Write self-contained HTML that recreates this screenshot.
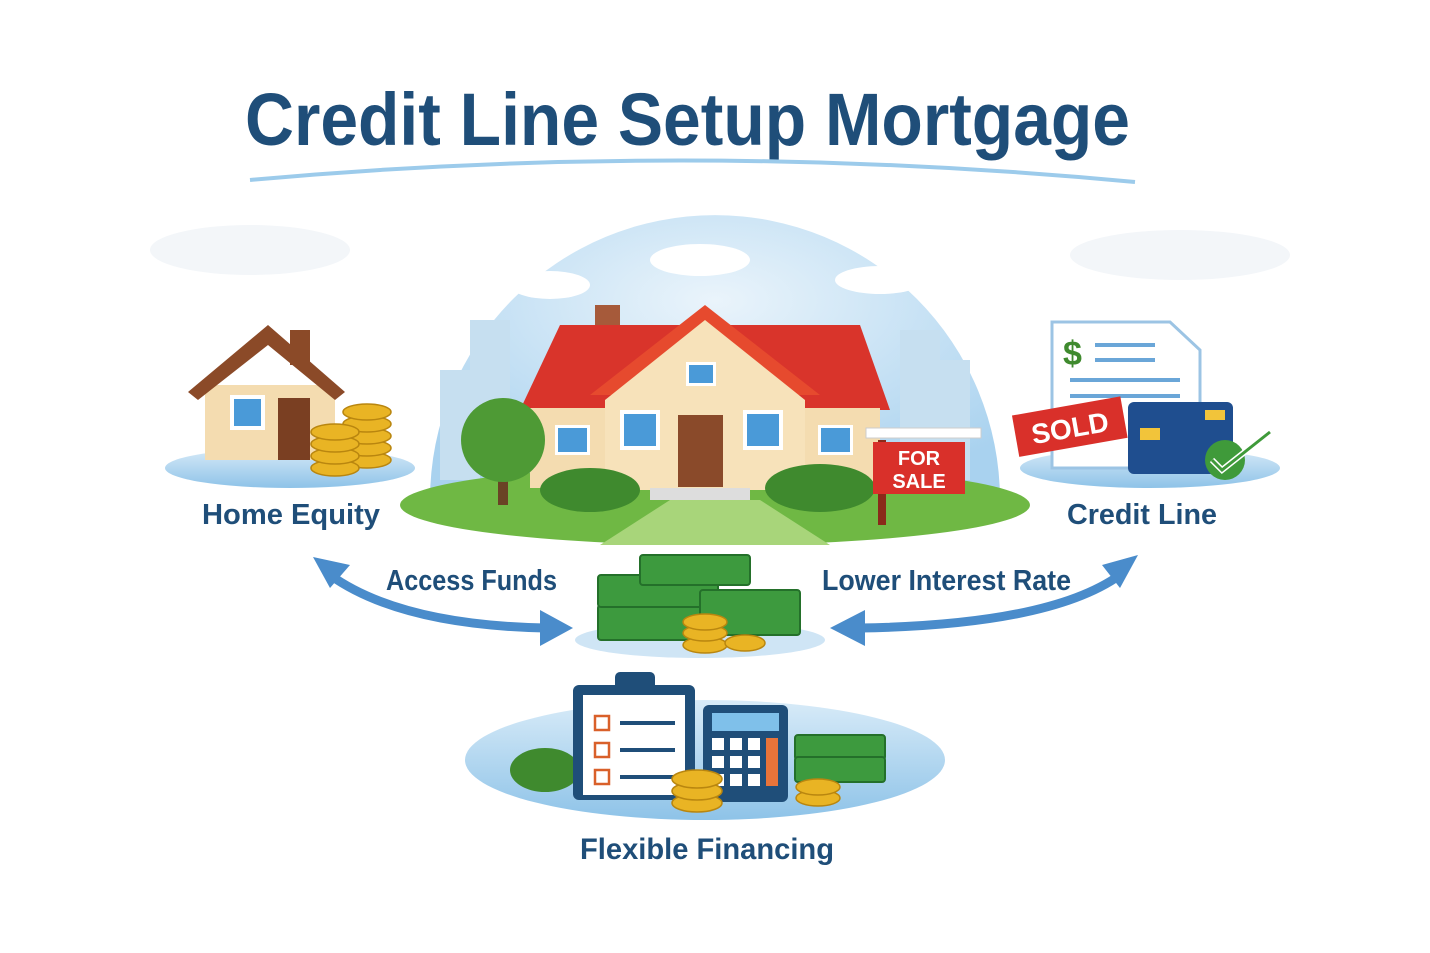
<!DOCTYPE html>
<html><head><meta charset="utf-8"><style>
html,body{margin:0;padding:0;background:#fff;}
svg{display:block;}
text{font-family:"Liberation Sans",sans-serif;}
</style></head><body>
<svg width="1430" height="953" viewBox="0 0 1430 953" xmlns="http://www.w3.org/2000/svg">
<defs>
<radialGradient id="sky" cx="50%" cy="30%" r="70%"><stop offset="0" stop-color="#eaf4fb"/><stop offset="1" stop-color="#a9d2ef"/></radialGradient>
<linearGradient id="pool" x1="0" y1="0" x2="0" y2="1"><stop offset="0" stop-color="#d8ebf8"/><stop offset="1" stop-color="#8ec3e8"/></linearGradient>
</defs>
<!-- title -->
<text x="245" y="145" textLength="885" lengthAdjust="spacingAndGlyphs" font-size="74" font-weight="bold" fill="#1f4e79">Credit Line Setup Mortgage</text>
<path d="M250 180 Q690 140 1135 182" stroke="#9ccbeb" stroke-width="4" fill="none"/>
<!-- faint clouds -->
<ellipse cx="250" cy="250" rx="100" ry="25" fill="#f3f6f9"/>
<ellipse cx="1180" cy="255" rx="110" ry="25" fill="#f3f6f9"/>
<!-- central sky -->
<path d="M430 500 A285 285 0 0 1 1000 500 Z" fill="url(#sky)"/>
<rect x="470" y="320" width="40" height="150" fill="#c6dff0"/>
<rect x="440" y="370" width="40" height="110" fill="#c6dff0"/>
<rect x="900" y="330" width="40" height="150" fill="#c6dff0"/>
<rect x="940" y="360" width="30" height="120" fill="#c6dff0"/>
<ellipse cx="700" cy="260" rx="50" ry="16" fill="#fff"/>
<ellipse cx="880" cy="280" rx="45" ry="14" fill="#fff"/>
<ellipse cx="550" cy="285" rx="40" ry="14" fill="#fff"/>
<!-- ground -->
<ellipse cx="715" cy="505" rx="315" ry="40" fill="#6fb844"/>
<path d="M670 500 L760 500 L830 545 L600 545 Z" fill="#a8d57a"/>
<!-- main house -->
<rect x="595" y="305" width="25" height="40" fill="#a65a3a"/>
<polygon points="520,410 560,325 860,325 890,410" fill="#d9342b"/>
<polygon points="590,395 705,305 820,395" fill="#e64a2e"/>
<rect x="530" y="408" width="350" height="80" fill="#f4dcb0"/>
<polygon points="605,400 705,320 805,400 805,490 605,490" fill="#f7e2ba"/>
<rect x="678" y="415" width="45" height="72" fill="#8a4a2a"/>
<rect x="620" y="410" width="40" height="40" fill="#fff"/><rect x="624" y="414" width="32" height="32" fill="#4a9ad8"/>
<rect x="743" y="410" width="40" height="40" fill="#fff"/><rect x="747" y="414" width="32" height="32" fill="#4a9ad8"/>
<rect x="686" y="362" width="30" height="24" fill="#fff"/><rect x="689" y="365" width="24" height="18" fill="#4a9ad8"/>
<rect x="555" y="425" width="35" height="30" fill="#fff"/><rect x="558" y="428" width="29" height="24" fill="#4a9ad8"/>
<rect x="818" y="425" width="35" height="30" fill="#fff"/><rect x="821" y="428" width="29" height="24" fill="#4a9ad8"/>
<rect x="650" y="488" width="100" height="12" fill="#ddd"/>
<!-- tree & bushes -->
<rect x="498" y="460" width="10" height="45" fill="#6a4325"/>
<circle cx="503" cy="440" r="42" fill="#4e9a35"/>
<ellipse cx="590" cy="490" rx="50" ry="22" fill="#3f8a2e"/>
<ellipse cx="820" cy="488" rx="55" ry="24" fill="#3f8a2e"/>
<!-- for sale sign -->
<rect x="878" y="440" width="8" height="85" fill="#8a2a1a"/>
<rect x="866" y="428" width="115" height="10" fill="#fff" stroke="#ccc"/>
<rect x="873" y="442" width="92" height="52" fill="#d9302a"/>
<text x="919" y="465" text-anchor="middle" font-size="20" font-weight="bold" fill="#fff">FOR</text>
<text x="919" y="488" text-anchor="middle" font-size="20" font-weight="bold" fill="#fff">SALE</text>
<!-- left home equity -->
<ellipse cx="290" cy="468" rx="125" ry="20" fill="url(#pool)"/>
<rect x="205" y="385" width="130" height="75" fill="#f4dcb0"/>
<polygon points="188,392 268,325 345,392 335,400 268,345 198,400" fill="#8b4a28"/>
<rect x="290" y="330" width="20" height="35" fill="#8b4a28"/>
<rect x="278" y="398" width="32" height="62" fill="#7a3f22"/>
<rect x="230" y="395" width="35" height="35" fill="#fff"/><rect x="234" y="399" width="27" height="27" fill="#4a9ad8"/>
<g fill="#e9b424" stroke="#b9860f" stroke-width="1.5">
<ellipse cx="367" cy="460" rx="24" ry="8"/><ellipse cx="367" cy="448" rx="24" ry="8"/><ellipse cx="367" cy="436" rx="24" ry="8"/><ellipse cx="367" cy="424" rx="24" ry="8"/><ellipse cx="367" cy="412" rx="24" ry="8"/>
<ellipse cx="335" cy="468" rx="24" ry="8"/><ellipse cx="335" cy="456" rx="24" ry="8"/><ellipse cx="335" cy="444" rx="24" ry="8"/><ellipse cx="335" cy="432" rx="24" ry="8"/>
</g>
<text x="202" y="524" textLength="178" lengthAdjust="spacingAndGlyphs" font-size="29" font-weight="bold" fill="#1f4e79">Home Equity</text>
<!-- right credit line -->
<ellipse cx="1150" cy="468" rx="130" ry="20" fill="url(#pool)"/>
<polygon points="1052,322 1170,322 1200,350 1200,468 1052,468" fill="#fff" stroke="#9cc4e4" stroke-width="3"/>
<text x="1063" y="365" font-size="34" font-weight="bold" fill="#3f8a2e">$</text>
<g stroke="#6aa6d8" stroke-width="4"><line x1="1095" y1="345" x2="1155" y2="345"/><line x1="1095" y1="360" x2="1155" y2="360"/><line x1="1070" y1="380" x2="1180" y2="380"/><line x1="1070" y1="396" x2="1180" y2="396"/></g>
<rect x="1128" y="402" width="105" height="72" rx="6" fill="#1f4e8f"/>
<rect x="1140" y="428" width="20" height="12" fill="#f2c43a"/>
<rect x="1205" y="410" width="20" height="10" fill="#f2c43a"/>
<g transform="rotate(-10 1068 428)"><rect x="1015" y="406" width="110" height="42" fill="#d9302a"/><text x="1070" y="438" text-anchor="middle" font-size="28" font-weight="bold" fill="#fff">SOLD</text></g>
<circle cx="1225" cy="460" r="20" fill="#3f9a3a"/>
<path d="M1212 460 L1222 470 L1270 432" stroke="#fff" stroke-width="6" fill="none"/>
<path d="M1212 460 L1222 470 L1270 432" stroke="#3f9a3a" stroke-width="3" fill="none"/>
<text x="1067" y="524" textLength="150" lengthAdjust="spacingAndGlyphs" font-size="29" font-weight="bold" fill="#1f4e79">Credit Line</text>
<!-- arrows -->
<path d="M330 575 Q400 625 545 628" stroke="#4a8ccb" stroke-width="9" fill="none"/>
<polygon points="313,557 350,565 330,588" fill="#4a8ccb"/>
<polygon points="573,628 540,610 540,646" fill="#4a8ccb"/>
<path d="M1120 575 Q1050 625 860 628" stroke="#4a8ccb" stroke-width="9" fill="none"/>
<polygon points="1138,555 1102,565 1120,588" fill="#4a8ccb"/>
<polygon points="830,628 865,610 865,646" fill="#4a8ccb"/>
<text x="386" y="590" textLength="171" lengthAdjust="spacingAndGlyphs" font-size="29" font-weight="bold" fill="#1f4e79">Access Funds</text>
<text x="822" y="590" textLength="249" lengthAdjust="spacingAndGlyphs" font-size="29" font-weight="bold" fill="#1f4e79">Lower Interest Rate</text>
<!-- money center -->
<ellipse cx="700" cy="640" rx="125" ry="18" fill="#cfe5f5"/>
<g fill="#3d9a3e" stroke="#24702a" stroke-width="2">
<rect x="598" y="605" width="120" height="35" rx="3"/><rect x="598" y="575" width="120" height="32" rx="3"/>
<rect x="700" y="590" width="100" height="45" rx="3"/><rect x="640" y="555" width="110" height="30" rx="3"/>
</g>
<g fill="#e9b424" stroke="#b9860f" stroke-width="1.5">
<ellipse cx="705" cy="645" rx="22" ry="8"/><ellipse cx="705" cy="633" rx="22" ry="8"/><ellipse cx="705" cy="622" rx="22" ry="8"/><ellipse cx="745" cy="643" rx="20" ry="8"/>
</g>
<!-- bottom -->
<ellipse cx="705" cy="760" rx="240" ry="60" fill="url(#pool)"/>
<ellipse cx="545" cy="770" rx="35" ry="22" fill="#3f8a2e"/>
<rect x="573" y="685" width="122" height="115" rx="6" fill="#1f4e79"/>
<rect x="583" y="695" width="102" height="100" fill="#fff"/>
<rect x="615" y="672" width="40" height="22" rx="5" fill="#1f4e79"/>
<g fill="none" stroke="#d9602a" stroke-width="2.5"><rect x="595" y="716" width="14" height="14"/><rect x="595" y="743" width="14" height="14"/><rect x="595" y="770" width="14" height="14"/></g>
<g stroke="#1f4e79" stroke-width="4"><line x1="620" y1="723" x2="675" y2="723"/><line x1="620" y1="750" x2="675" y2="750"/><line x1="620" y1="777" x2="675" y2="777"/></g>
<rect x="703" y="705" width="85" height="97" rx="6" fill="#1f4e79"/>
<rect x="712" y="713" width="67" height="18" fill="#7fc0ea"/>
<g fill="#fff"><rect x="712" y="738" width="12" height="12"/><rect x="730" y="738" width="12" height="12"/><rect x="748" y="738" width="12" height="12"/><rect x="712" y="756" width="12" height="12"/><rect x="730" y="756" width="12" height="12"/><rect x="748" y="756" width="12" height="12"/><rect x="712" y="774" width="12" height="12"/><rect x="730" y="774" width="12" height="12"/><rect x="748" y="774" width="12" height="12"/></g>
<rect x="766" y="738" width="12" height="48" fill="#e8743a"/>
<g fill="#3d9a3e" stroke="#24702a" stroke-width="2"><rect x="795" y="735" width="90" height="25" rx="3"/><rect x="795" y="757" width="90" height="25" rx="3"/></g>
<g fill="#e9b424" stroke="#b9860f" stroke-width="1.5">
<ellipse cx="697" cy="803" rx="25" ry="9"/><ellipse cx="697" cy="791" rx="25" ry="9"/><ellipse cx="697" cy="779" rx="25" ry="9"/>
<ellipse cx="818" cy="798" rx="22" ry="8"/><ellipse cx="818" cy="787" rx="22" ry="8"/>
</g>
<text x="580" y="859" textLength="254" lengthAdjust="spacingAndGlyphs" font-size="30" font-weight="bold" fill="#1f4e79">Flexible Financing</text>
</svg>
</body></html>
